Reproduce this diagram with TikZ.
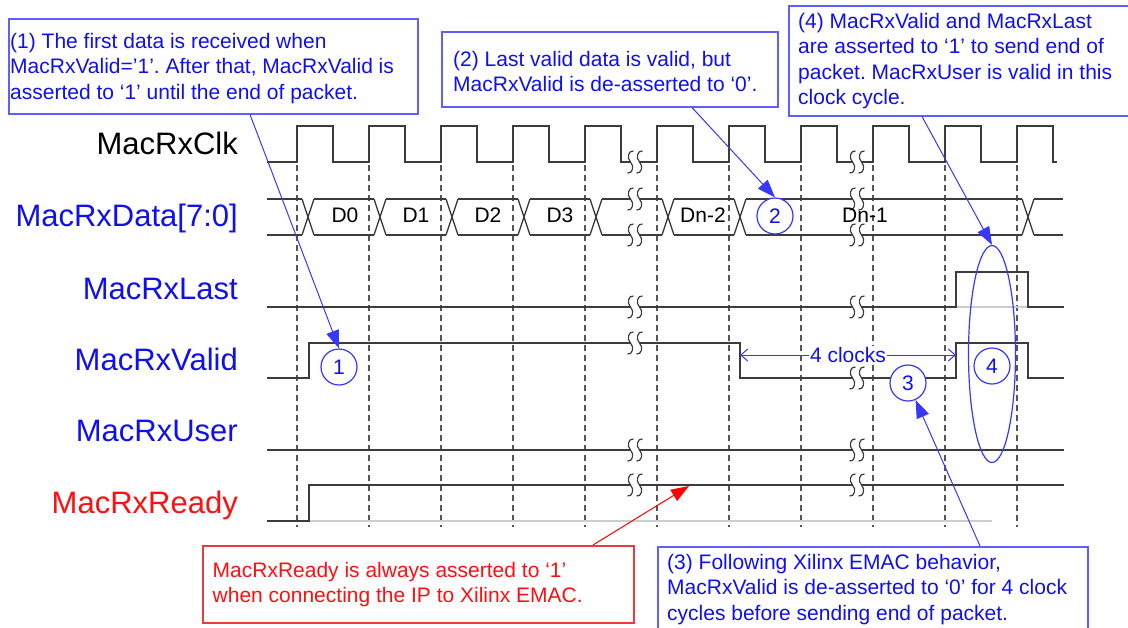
\documentclass[tikz,border=0pt]{standalone}
\usepackage{fontspec}
\setmainfont{Liberation Sans}
\usetikzlibrary{arrows.meta,shapes.geometric}
\definecolor{sig}{RGB}{60,60,60}
\definecolor{gridc}{RGB}{85,85,85}
\definecolor{lblue}{RGB}{15,15,240}
\definecolor{bblue}{RGB}{95,95,250}
\definecolor{ablue}{RGB}{55,55,255}
\definecolor{lred}{RGB}{255,15,15}
\definecolor{bred}{RGB}{235,60,60}
\definecolor{lgrayc}{RGB}{205,205,205}
\frenchspacing
\begin{document}
\begin{tikzpicture}[x=1pt,y=-1pt,
  sigline/.style={draw=sig,line width=1.4pt},
  gridline/.style={draw=gridc,line width=1.2pt,dash pattern=on 6pt off 4pt},
  ghostline/.style={draw=lgrayc,line width=1.4pt},
  lbl/.style={anchor=base east,font=\fontsize{31}{31}\selectfont,inner sep=0pt},
  dlbl/.style={anchor=base,font=\fontsize{21}{21}\selectfont,inner sep=0pt},
  num/.style={circle,draw=ablue,fill=white,line width=1.2pt,minimum size=36pt,inner sep=0pt,text=lblue,font=\fontsize{21}{21}\selectfont},
  cbox/.style={draw=bblue,line width=1.5pt,anchor=north west,inner sep=0pt},
  rbox/.style={draw=bred,line width=1.5pt,anchor=north west,inner sep=0pt},
  ctext/.style={anchor=north west,inner sep=0pt,align=left,text=lblue,font=\fontsize{21}{25.5}\selectfont},
  rtext/.style={ctext,text=lred},
  carrow/.style={draw=ablue,line width=1pt,-{Triangle[length=18pt,width=13pt]}},
  rarrow/.style={draw=red,line width=1pt,-{Triangle[length=18pt,width=13pt]}},
  clkarrow/.style={draw=ablue,line width=1pt,{Straight Barb[length=7pt,width=12pt]}-{Straight Barb[length=7pt,width=12pt]}},
  brk/.pic={
    \fill[white] (-4.5,-6) rectangle (4.5,6);
    \draw[sig,line width=1.2pt] (-1.5,-11) .. controls (-6.5,-12) and (-8.5,-4) .. (-4.5,0) .. controls (-0.5,4) and (-2.5,12) .. (-7.5,11);
    \draw[sig,line width=1.2pt] (7.5,-11) .. controls (2.5,-12) and (0.5,-4) .. (4.5,0) .. controls (8.5,4) and (6.5,12) .. (1.5,11);
  }
]
\useasboundingbox (0,0) rectangle (1128,627);

% grid lines
\foreach \k in {0,...,10} {
  \draw[gridline] ({297+72*\k},165) -- ({297+72*\k},527);
}

% faint under-lines
\draw[ghostline] (956,307) -- (1028,307);
\draw[ghostline] (309,521) -- (992,521);

% clock
\draw[sigline] (267,162) \foreach \k in {0,...,10} { -- ({297+72*\k},162) -- ({297+72*\k},126) -- ({333+72*\k},126) -- ({333+72*\k},162) } -- (1057,162);

% data bus
\foreach \a/\b in {267/302,314/374,386/446,458/518,530/590,602/662,674/734,746/1022,1034/1063} {
  \draw[sigline] (\a,199) -- (\b,199);
  \draw[sigline] (\a,235) -- (\b,235);
}
\foreach \c in {308,380,452,524,596,668,740,1028} {
  \draw[sigline] ({\c-6},199) -- ({\c+6},235);
  \draw[sigline] ({\c-6},235) -- ({\c+6},199);
}

% last
\draw[sigline] (267,307) -- (956,307) -- (956,272) -- (1028,272) -- (1028,307) -- (1064,307);
% valid
\draw[sigline] (267,378) -- (309,378) -- (309,343) -- (740,343) -- (740,378) -- (956,378) -- (956,343) -- (1028,343) -- (1028,378) -- (1064,378);
% user
\draw[sigline] (267,450) -- (1064,450);
% ready
\draw[sigline] (267,521) -- (309,521) -- (309,485) -- (1064,485);

% breaks
\foreach \p in {(635,162),(857,162),(635,199),(635,235),(857,199),(857,235),(635,307),(857,307),(635,343),(857,378),(635,450),(857,450),(635,485),(857,485)} {
  \pic at \p {brk};
}

% signal labels
\node[lbl,text=black] (lclk) at (238,154) {MacRxClk};
\node[lbl,text=lblue] (ldata) at (238,226) {MacRxData[7:0]};
\node[lbl,text=lblue] (llast) at (238,299) {MacRxLast};
\node[lbl,text=lblue] (lvalid) at (238,370) {MacRxValid};
\node[lbl,text=lblue] (luser) at (238,441) {MacRxUser};
\node[lbl,text=lred] (lready) at (238,513) {MacRxReady};

% data labels
\node[dlbl] (d0) at (345,222) {D0};
\node[dlbl] (d1) at (416,222) {D1};
\node[dlbl] (d2) at (488,222) {D2};
\node[dlbl] (d3) at (560,222) {D3};
\node[dlbl] (dn2) at (703,222) {Dn-2};
\node[dlbl] (dn1) at (865,222) {Dn-1};

% 4 clocks
\coordinate (fa) at (740,355);
\coordinate (fb) at (956,355);
\draw[clkarrow] (fa) -- (fb) node[midway,fill=white,inner sep=1pt,text=lblue,font=\fontsize{21}{21}\selectfont] (fc) {4 clocks};

% ellipse and circles
\node[ellipse,draw=ablue,line width=1.2pt,minimum width=47pt,minimum height=217pt,inner sep=0pt] (e4) at (992,354) {};
\node[num] (c1) at (339,367) {1};
\node[num] (c2) at (775,216) {2};
\node[num] (c3) at (908,383) {3};
\node[num] (c4) at (992,366) {4};

% callout boxes
\node[cbox,minimum width=409pt,minimum height=95pt] (b1) at (8,18) {};
\node[ctext] (t1) at (10,33) {(1) The first data is received when\\MacRxValid=’1’. After that, MacRxValid is\\asserted to ‘1’ until the end of packet.};

\node[cbox,minimum width=336pt,minimum height=75pt] (b2) at (441,31) {};
\node[ctext] (t2) at (453,51) {(2) Last valid data is valid, but\\MacRxValid is de-asserted to ‘0’.};

\node[cbox,minimum width=430pt,minimum height=88pt] (b3) at (657,546) {};
\node[ctext] (t3) at (667,554) {(3) Following Xilinx EMAC behavior,\\MacRxValid is de-asserted to ‘0’ for 4 clock\\cycles before sending end of packet.};

\node[cbox,minimum width=352pt,minimum height=110pt] (b4) at (788,5) {};
\node[ctext] (t4) at (798,13) {(4) MacRxValid and MacRxLast\\are asserted to ‘1’ to send end of\\packet. MacRxUser is valid in this\\clock cycle.};

\node[rbox,minimum width=431pt,minimum height=77pt] (rb) at (202,545) {};
\node[rtext] (tr) at (212.5,562) {MacRxReady is always asserted to ‘1’\\when connecting the IP to Xilinx EMAC.};

% callout arrows
\coordinate (rtip) at (689,486);
\draw[carrow] (b1.south west) ++(242,0) -- (c1.north);
\draw[carrow] (b2.south west) ++(251,0) -- (c2.north);
\draw[carrow] (b3.north west) ++(323,0) -- (c3.-66);
\draw[carrow] (b4.south west) ++(134,0) -- (e4.north);
\draw[rarrow] (rb.north west) ++(391,0) -- (rtip);
\end{tikzpicture}
\end{document}
